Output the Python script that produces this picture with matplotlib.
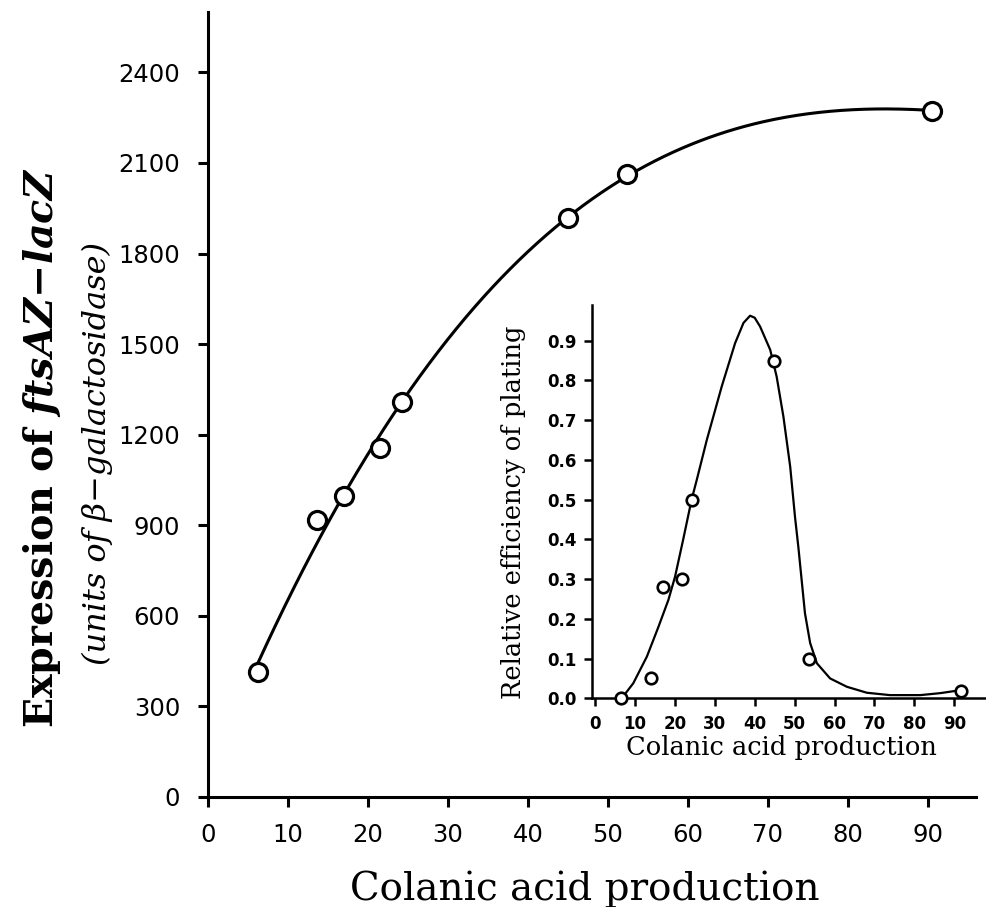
import numpy as np
import matplotlib
matplotlib.use("Agg")
import matplotlib.pyplot as plt

plt.rcParams['mathtext.fontset'] = 'custom'
plt.rcParams['mathtext.it'] = 'DejaVu Serif:italic:bold'
plt.rcParams['mathtext.rm'] = 'DejaVu Serif:bold'

# main panel: ftsAZ-lacZ expression vs colanic acid production
colanic = np.array([6.25, 13.6, 17.0, 21.5, 24.25, 45.0, 52.4, 90.5])
expression = np.array([414, 917, 997, 1155, 1308, 1917, 2065, 2273])
main_xticks = [0, 10, 20, 30, 40, 50, 60, 70, 80, 90]
main_yticks = [0, 300, 600, 900, 1200, 1500, 1800, 2100, 2400]

# inset: relative efficiency of plating
eop_x = np.array([6.5, 14.0, 17.0, 21.7, 24.4, 44.9, 53.5, 91.7])
eop_y = np.array([0.0, 0.05, 0.28, 0.30, 0.50, 0.85, 0.10, 0.018])

# inset curve
curve_x = [6.7, 9.6, 13.0, 15.9, 18.4, 20.05, 22.1, 24.2, 25.5, 28.0, 31.75,
           35.1, 37.2, 38.85, 40.0, 41.35, 43.9, 45.5, 47.2, 48.9, 50.1,
           50.95, 52.6, 53.9, 55.6, 58.9, 63.1, 68.1, 73.9, 81.5, 86.5, 91.9]
curve_y = [0.0, 0.038, 0.105, 0.18, 0.248, 0.306, 0.40, 0.50, 0.55, 0.65, 0.785,
           0.894, 0.945, 0.963, 0.958, 0.936, 0.877, 0.81, 0.709, 0.583, 0.457,
           0.38, 0.214, 0.139, 0.088, 0.050, 0.029, 0.014, 0.008, 0.008, 0.013, 0.021]
inset_xticks = [0, 10, 20, 30, 40, 50, 60, 70, 80, 90]
inset_yticks = [0.0, 0.1, 0.2, 0.3, 0.4, 0.5, 0.6, 0.7, 0.8, 0.9]
inset_ylabels = ["0.0", "0.1", "0.2", "0.3", "0.4", "0.5", "0.6", "0.7", "0.8", "0.9"]

fig = plt.figure(figsize=(9.87, 9.07), dpi=100)

# --- main axes
ax = fig.add_axes([208 / 987, 110 / 907, 768 / 987, 785 / 907])
coef = np.polyfit(colanic, expression, 3)
xs = np.linspace(colanic.min(), colanic.max(), 300)
ax.plot(xs, np.polyval(coef, xs), color='black', lw=2.2, zorder=2)
ax.plot(colanic, expression, 'o', ms=13, mfc='white', mec='black', mew=2.3, zorder=3)

ax.set_xlim(0, 96)
ax.set_ylim(0, 2600)
ax.set_xticks(main_xticks)
ax.set_yticks(main_yticks)
for side in ['top', 'right']:
    ax.spines[side].set_visible(False)
for side in ['left', 'bottom']:
    ax.spines[side].set_linewidth(2.2)
ax.tick_params(direction='out', length=7, width=2.2, pad=12, labelsize=17.5)
ax.tick_params(axis='y', pad=13)
for lab in ax.get_xticklabels() + ax.get_yticklabels():
    lab.set_fontfamily('DejaVu Sans')

fig.text(585 / 987, (907 - 900) / 907, "Colanic acid production",
         family='DejaVu Serif', fontsize=28, ha='center', va='baseline')
fig.text(42 / 987, (907 - 447) / 907, r"Expression of $ftsAZ{-}lacZ$",
         family='DejaVu Serif', weight='bold', fontsize=28.5, rotation=90,
         ha='center', va='center')
fig.text(97 / 987, (907 - 453) / 907, "(units of β−galactosidase)",
         family='DejaVu Serif', style='italic', fontsize=23, rotation=90,
         ha='center', va='center')

# --- inset
ins = fig.add_axes([592 / 987, (907 - 698.3) / 907, 395 / 987, 393.3 / 907])
ins.patch.set_alpha(0)
ins.plot(curve_x, curve_y, color='black', lw=1.6, zorder=2)
ins.plot(eop_x, eop_y, 'o', ms=8.3, mfc='white', mec='black', mew=1.9, zorder=3,
         clip_on=False)
ins.set_xlim(-0.75, 98.2)
ins.set_ylim(0, 0.99)
ins.set_xticks(inset_xticks)
ins.set_yticks(inset_yticks)
ins.set_yticklabels(inset_ylabels)
for side in ['top', 'right']:
    ins.spines[side].set_visible(False)
for side in ['left', 'bottom']:
    ins.spines[side].set_linewidth(1.8)
ins.tick_params(direction='out', length=6, width=1.8, labelsize=12)
ins.tick_params(axis='y', pad=5)
ins.tick_params(axis='x', pad=6)
for lab in ins.get_xticklabels() + ins.get_yticklabels():
    lab.set_fontfamily('DejaVu Sans')
    lab.set_fontweight('bold')

fig.text(781 / 987, (907 - 755) / 907, "Colanic acid production",
         family='DejaVu Serif', fontsize=18.5, ha='center', va='baseline')
fig.text(514 / 987, (907 - 512) / 907, "Relative efficiency of plating",
         family='DejaVu Serif', fontsize=18.5, rotation=90,
         ha='center', va='center')

fig.savefig("out.png", dpi=100)
